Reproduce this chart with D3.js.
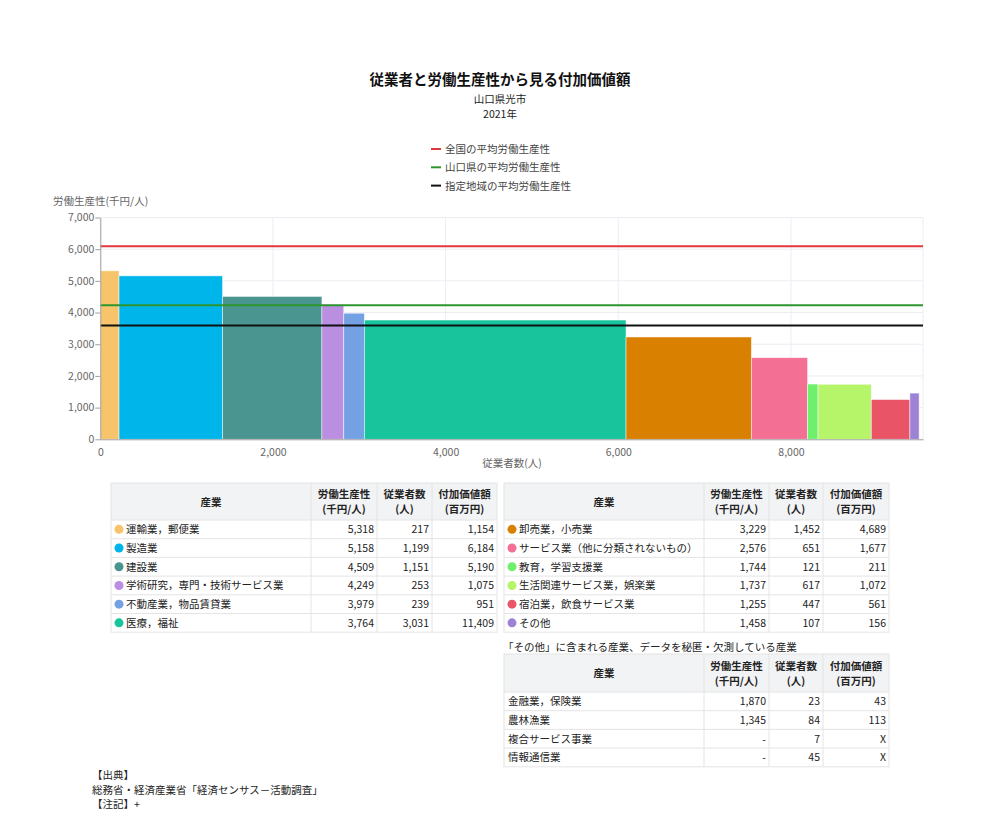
<!DOCTYPE html>
<html>
<head>
<meta charset="utf-8">
<script src="https://cdn.jsdelivr.net/npm/d3@7"></script>
<style>
  body { margin: 0; background: #fff; }
  svg text { font-family: "Noto Sans CJK JP", "Noto Sans", sans-serif; }
</style>
</head>
<body>
<div class="panel"></div>
<script>
// Data

const industries = ["運輸業，郵便業", "製造業", "建設業", "学術研究，専門・技術サービス業", "不動産業，物品賃貸業", "医療，福祉",
    "卸売業，小売業", "サービス業（他に分類されないもの）", "教育，学習支援業", "生活関連サービス業，娯楽業", "宿泊業，飲食サービス業", "その他"];
const productivity = [5318, 5158, 4509, 4249, 3979, 3764, 3229, 2576, 1744, 1737, 1255, 1458];
const employees = [217, 1199, 1151, 253, 239, 3031, 1452, 651, 121, 617, 447, 107];
const valueAdded = [1154, 6184, 5190, 1075, 951, 11409, 4689, 1677, 211, 1072, 561, 156];
const colors = ["#F7C46C", "#00B5E9", "#4A958F", "#BA8EE0", "#73A1E4", "#17C49C",
    "#D98000", "#F37094", "#6FF06D", "#B6F56A", "#E95466", "#9D82D5"];

const refLabels = ["全国の平均労働生産性", "山口県の平均労働生産性", "指定地域の平均労働生産性"];
const refValues = [6090, 4230, 3590];
const refColors = ["#E0393E", "#2E962E", "#111111"];

const otherIndustries = ["金融業，保険業", "農林漁業", "複合サービス事業", "情報通信業"];
const otherProductivity = ["1,870", "1,345", "-", "-"];
const otherEmployees = ["23", "84", "7", "45"];
const otherValueAdded = ["43", "113", "X", "X"];

const yTicks = [0, 1000, 2000, 3000, 4000, 5000, 6000, 7000];
const xTicks = [0, 2000, 4000, 6000, 8000];
const headers = [["産業"], ["労働生産性", "(千円/人)"], ["従業者数", "(人)"], ["付加価値額", "(百万円)"]];

// Render

const W = 1000, H = 823;
const svg = d3.select(".panel").append("svg")
    .attr("width", W).attr("height", H)
    .attr("viewBox", [0, 0, W, H]);

svg.append("rect").attr("width", W).attr("height", H).attr("fill", "#fff");

// titles
svg.append("text").attr("x", 500).attr("y", 85).attr("text-anchor", "middle")
    .attr("font-size", 14.5).attr("font-weight", "bold").attr("fill", "#111")
    .text("従業者と労働生産性から見る付加価値額");
svg.append("text").attr("x", 500).attr("y", 103).attr("text-anchor", "middle")
    .attr("font-size", 10.5).attr("fill", "#222").text("山口県光市");
svg.append("text").attr("x", 500).attr("y", 118).attr("text-anchor", "middle")
    .attr("font-size", 10.5).attr("fill", "#222").text("2021年");

// legend
const legend = svg.append("g");
refLabels.forEach((lab, i) => {
    const y = 149 + i * 18.3;
    legend.append("line").attr("x1", 431).attr("x2", 441).attr("y1", y).attr("y2", y)
        .attr("stroke", refColors[i]).attr("stroke-width", 2);
    legend.append("text").attr("x", 445).attr("y", y + 4).attr("font-size", 10.5)
        .attr("fill", "#444").text(lab);
});

// chart
const plot = { left: 100.3, right: 923, top: 217.5, bottom: 439.3 };
const x = d3.scaleLinear().domain([0, 9530]).range([plot.left, plot.right]);
const y = d3.scaleLinear().domain([0, 7000]).range([plot.bottom, plot.top]);

const grid = svg.append("g").attr("stroke", "#EBEDF3").attr("stroke-width", 1);
yTicks.forEach(t => grid.append("line").attr("x1", plot.left).attr("x2", plot.right)
    .attr("y1", y(t)).attr("y2", y(t)));
xTicks.concat([9530]).forEach(t => grid.append("line").attr("x1", x(t)).attr("x2", x(t))
    .attr("y1", plot.top).attr("y2", plot.bottom));

const starts = [0, ...d3.cumsum(employees)].slice(0, employees.length);
svg.append("g").selectAll("rect")
    .data(industries)
    .join("rect")
    .attr("x", (d, i) => x(starts[i]))
    .attr("width", (d, i) => x(starts[i] + employees[i]) - x(starts[i]))
    .attr("y", (d, i) => y(productivity[i]))
    .attr("height", (d, i) => y(0) - y(productivity[i]))
    .attr("fill", (d, i) => colors[i])
    .attr("stroke", "#fff").attr("stroke-opacity", 0.6).attr("stroke-width", 0.8);

refValues.forEach((v, i) => svg.append("line")
    .attr("x1", plot.left).attr("x2", plot.right).attr("y1", y(v)).attr("y2", y(v))
    .attr("stroke", refColors[i]).attr("stroke-width", 2));

const yAxis = svg.append("g").attr("transform", `translate(${plot.left},0)`)
    .call(d3.axisLeft(y).tickValues(yTicks).tickFormat(d3.format(",")).tickSize(5).tickSizeOuter(0));
const xAxis = svg.append("g").attr("transform", `translate(0,${plot.bottom})`)
    .call(d3.axisBottom(x).tickValues(xTicks).tickFormat(d3.format(",")).tickSize(0).tickSizeOuter(0));
[yAxis, xAxis].forEach(a => {
    a.selectAll("path, line").attr("stroke", "#A0A0A0");
    a.selectAll("text").attr("fill", "#666").attr("font-size", 10.5)
        .attr("font-family", "'Noto Sans', sans-serif");
});
xAxis.selectAll("text").attr("dy", "1.3em");
yAxis.selectAll("text").attr("x", -6);

svg.append("text").attr("x", 53).attr("y", 205).attr("font-size", 10.5).attr("fill", "#666")
    .text("労働生産性(千円/人)");
svg.append("text").attr("x", 512).attr("y", 467).attr("text-anchor", "middle")
    .attr("font-size", 10.5).attr("fill", "#666").text("従業者数(人)");

// tables
function drawTable(x0, y0, edges, headH, rowH, rows) {
    const g = svg.append("g");
    const w = edges[edges.length - 1] - edges[0];
    const total = headH + rowH * rows.length;
    g.append("rect").attr("x", x0).attr("y", y0).attr("width", w).attr("height", headH)
        .attr("fill", "#F2F3F5");
    g.append("rect").attr("x", x0).attr("y", y0).attr("width", w).attr("height", total)
        .attr("fill", "none").attr("stroke", "#E4E4E4");
    edges.slice(1, -1).forEach(e => g.append("line").attr("x1", e).attr("x2", e)
        .attr("y1", y0).attr("y2", y0 + total).attr("stroke", "#E4E4E4"));
    rows.forEach((r, i) => g.append("line").attr("x1", x0).attr("x2", x0 + w)
        .attr("y1", y0 + headH + rowH * i).attr("y2", y0 + headH + rowH * i).attr("stroke", "#E4E4E4"));
    headers.forEach((h, c) => {
        const cx = (edges[c] + edges[c + 1]) / 2;
        h.forEach((line, k) => g.append("text").attr("x", cx)
            .attr("y", y0 + headH / 2 + 4 + (k - (h.length - 1) / 2) * 15)
            .attr("text-anchor", "middle").attr("font-size", 10.5).attr("font-weight", "bold")
            .attr("fill", "#222").text(line));
    });
    rows.forEach((r, i) => {
        const cy = y0 + headH + rowH * i + rowH / 2;
        let tx = edges[0] + 4;
        if (r.color) {
            g.append("circle").attr("cx", edges[0] + 8).attr("cy", cy).attr("r", 4.5).attr("fill", r.color);
            tx = edges[0] + 15;
        }
        g.append("text").attr("x", tx).attr("y", cy + 4).attr("font-size", 10.5)
            .attr("fill", "#222").text(r.name);
        r.cells.forEach((v, c) => g.append("text").attr("x", edges[c + 2] - 3).attr("y", cy + 4)
            .attr("text-anchor", "end").attr("font-size", 10.5).attr("fill", "#222")
            .attr("font-family", "'Noto Sans', sans-serif").text(v));
    });
}

const fmt = d3.format(",");
const mainRows = industries.map((n, i) => ({
    name: n, color: colors[i],
    cells: [fmt(productivity[i]), fmt(employees[i]), fmt(valueAdded[i])]
}));

drawTable(111, 483, [111, 311, 377, 432, 497], 37, 18.7, mainRows.slice(0, 6));
drawTable(504, 483, [504, 704, 769, 823, 889], 37, 18.7, mainRows.slice(6));

svg.append("text").attr("x", 503).attr("y", 651).attr("font-size", 10.5).attr("fill", "#222")
    .text("「その他」に含まれる産業、データを秘匿・欠測している産業");
drawTable(504, 654, [504, 704, 769, 823, 889], 38, 18.7, otherIndustries.map((n, i) => ({
    name: n, cells: [otherProductivity[i], otherEmployees[i], otherValueAdded[i]]
})));

// notes
["【出典】", "総務省・経済産業省「経済センサス－活動調査」", "【注記】+"].forEach((t, i) =>
    svg.append("text").attr("x", 92).attr("y", 779 + i * 14.5).attr("font-size", 10.5)
        .attr("fill", "#222").text(t));
</script>
</body>
</html>
